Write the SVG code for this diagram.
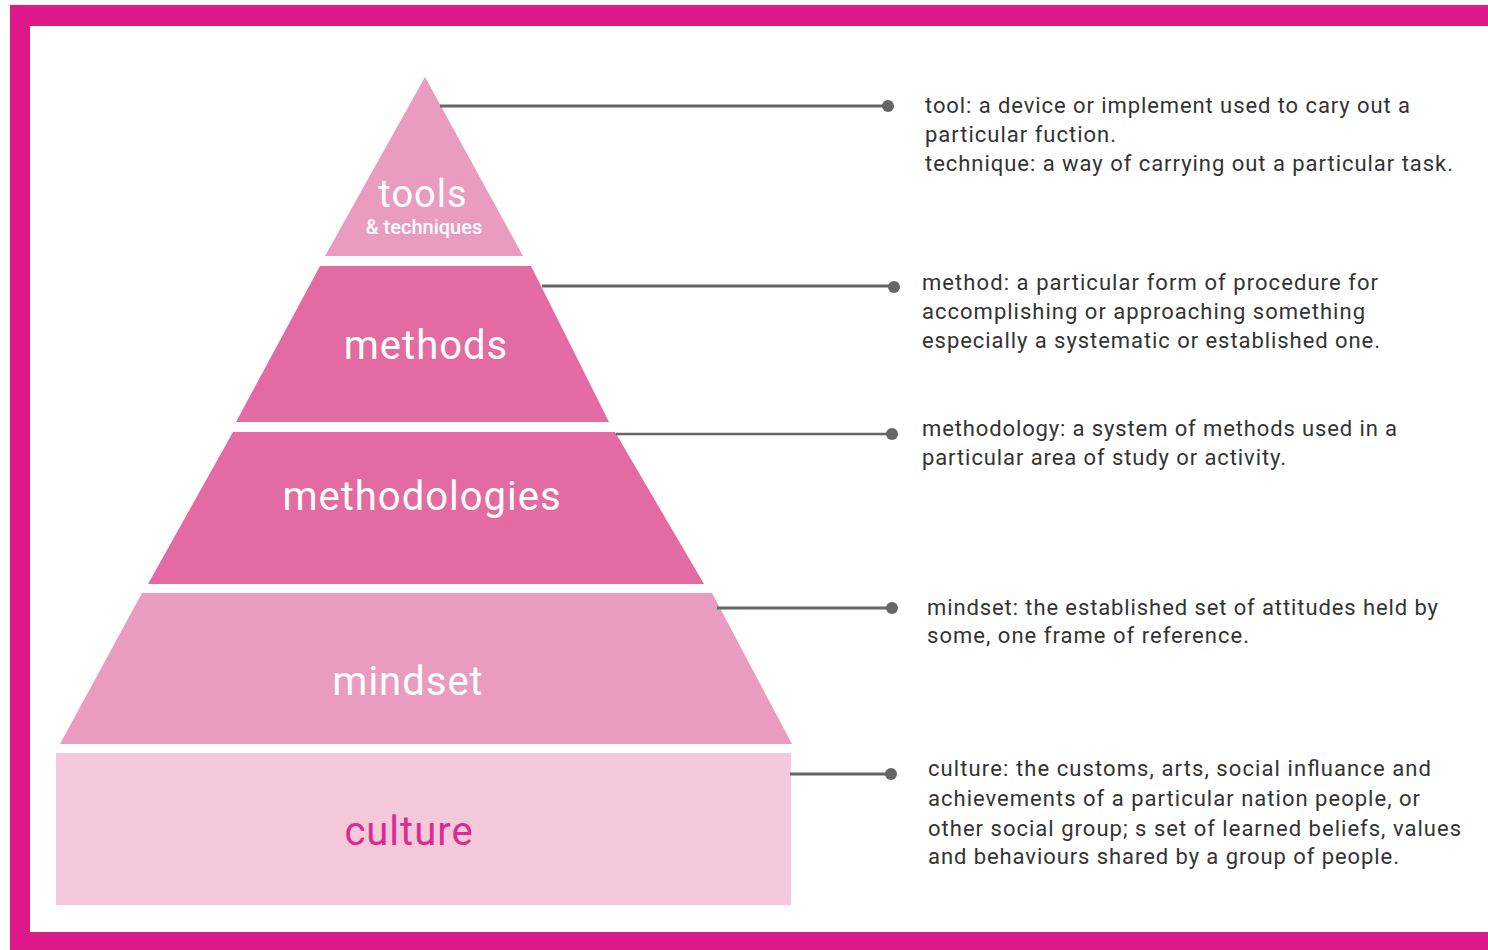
<svg xmlns="http://www.w3.org/2000/svg" width="1488" height="950" viewBox="0 0 1488 950">
<style>
.lbl{font-family:Roboto,"Liberation Sans",sans-serif;fill:#fff;text-anchor:middle;}
.big{font-size:40px;letter-spacing:1px;}
.def{font-family:Roboto,"Liberation Sans",sans-serif;font-size:22px;fill:#333;}
.conn line{stroke:#666;stroke-width:3;}
.conn circle{fill:#666;}
</style>
<rect x="0" y="0" width="1488" height="950" fill="#fff"/>
<path d="M10 5 H1488 V26 H30 V932 H1488 V950 H10 Z" fill="#DE1A8A"/>
<g id="tools">
<polygon points="425,77 523,256 325,256" fill="#EA9BC0"/>
<text class="lbl big" x="423" y="207" style="font-size:38px">tools</text>
<text class="lbl" x="424" y="234" font-size="20" font-weight="500">&amp; techniques</text>
</g>
<g id="methods">
<polygon points="320,266 531,266 609,422 236,422" fill="#E46AA2"/>
<text class="lbl big" x="426" y="359">methods</text>
</g>
<g id="methodologies">
<polygon points="233,432 615,432 704,584 148,584" fill="#E46AA2"/>
<text class="lbl big" x="422" y="510">methodologies</text>
</g>
<g id="mindset">
<polygon points="142,593 712,593 792,744 60,744" fill="#EA9BC0"/>
<text class="lbl big" x="408" y="695">mindset</text>
</g>
<g id="culture">
<rect x="56" y="753" width="735" height="152" fill="#F5C9DC"/>
<text class="lbl big" x="409" y="845" style="fill:#DE2A8E">culture</text>
</g>
<g class="conn" id="connectors">
<line x1="440" y1="106" x2="888" y2="106"/><circle cx="888" cy="106" r="6"/>
<line x1="542" y1="286" x2="894" y2="286"/><circle cx="894" cy="287" r="6"/>
<line x1="616" y1="434" x2="892" y2="434" style="stroke-width:2.5"/><circle cx="892" cy="434" r="6"/>
<line x1="717" y1="608" x2="892" y2="608"/><circle cx="892" cy="608" r="6"/>
<line x1="790" y1="774" x2="891" y2="774"/><circle cx="891" cy="774" r="6"/>
</g>
<g id="def-tools" class="def">
<text x="925" y="113" textLength="485" lengthAdjust="spacing">tool: a device or implement used to cary out a</text>
<text x="925" y="142" textLength="191" lengthAdjust="spacing">particular fuction.</text>
<text x="925" y="171" textLength="528" lengthAdjust="spacing">technique: a way of carrying out a particular task.</text>
</g>
<g id="def-methods" class="def">
<text x="922" y="290" textLength="456" lengthAdjust="spacing">method: a particular form of procedure for</text>
<text x="922" y="319" textLength="443" lengthAdjust="spacing">accomplishing or approaching something</text>
<text x="922" y="348" textLength="458" lengthAdjust="spacing">especially a systematic or established one.</text>
</g>
<g id="def-methodologies" class="def">
<text x="922" y="436" textLength="475" lengthAdjust="spacing">methodology: a system of methods used in a</text>
<text x="922" y="465" textLength="364" lengthAdjust="spacing">particular area of study or activity.</text>
</g>
<g id="def-mindset" class="def">
<text x="927" y="615" textLength="511" lengthAdjust="spacing">mindset: the established set of attitudes held by</text>
<text x="927" y="643" textLength="322" lengthAdjust="spacing">some, one frame of reference.</text>
</g>
<g id="def-culture" class="def">
<text x="928" y="776" textLength="503" lengthAdjust="spacing">culture: the customs, arts, social influance and</text>
<text x="928" y="806" textLength="492" lengthAdjust="spacing">achievements of a particular nation people, or</text>
<text x="928" y="836" textLength="533" lengthAdjust="spacing">other social group; s set of learned beliefs, values</text>
<text x="928" y="864" textLength="471" lengthAdjust="spacing">and behaviours shared by a group of people.</text>
</g>
</svg>
